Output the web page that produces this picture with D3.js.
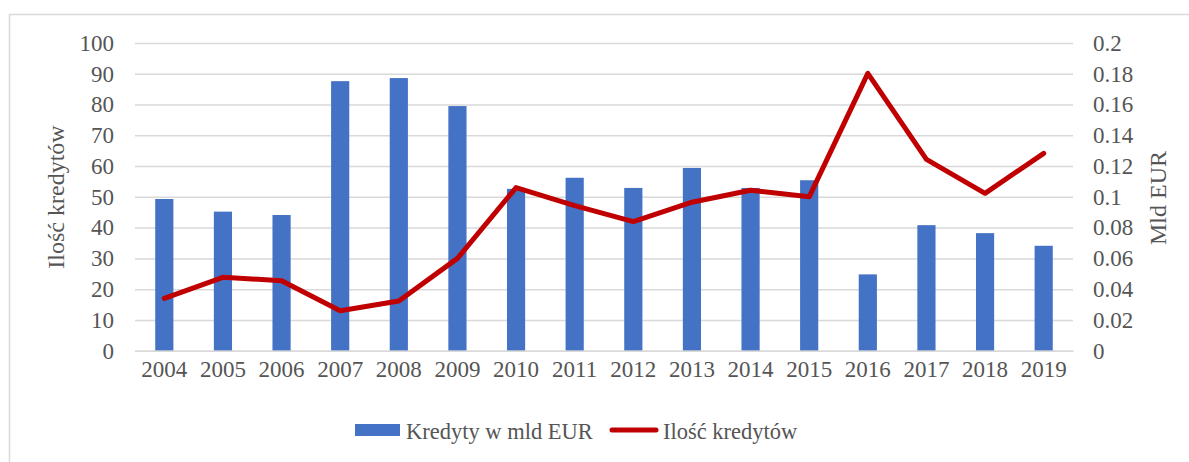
<!DOCTYPE html>
<html>
<head>
<meta charset="utf-8">
<script src="https://cdn.jsdelivr.net/npm/d3@7"></script>
<style>
  body { margin: 0; background: #fff; }
  svg text { font-family: "Liberation Serif", "Times New Roman", serif; fill: #555; }
</style>
</head>
<body>
<svg></svg>
<script>
let years = ['2004', '2005', '2006', '2007', '2008', '2009', '2010', '2011', '2012', '2013', '2014', '2015', '2016', '2017', '2018', '2019']
let kredyty = [49.3, 45.2, 44.1, 87.6, 88.6, 79.5, 52.6, 56.2, 52.9, 59.4, 52.9, 55.4, 24.8, 40.8, 38.2, 34.1]
let ilosc = [0.034, 0.0477, 0.0455, 0.026, 0.0323, 0.060, 0.106, 0.0943, 0.0839, 0.0965, 0.1043, 0.100, 0.1803, 0.1244, 0.1023, 0.1283]
let leftTicks = [0, 10, 20, 30, 40, 50, 60, 70, 80, 90, 100]
let rightTicks = [0, 0.02, 0.04, 0.06, 0.08, 0.1, 0.12, 0.14, 0.16, 0.18, 0.2]
let rightLabels = ['0', '0.02', '0.04', '0.06', '0.08', '0.1', '0.12', '0.14', '0.16', '0.18', '0.2']

let width = 1189
let height = 462
let plotLeft = 135
let plotRight = 1073
let plotTop = 43
let plotBottom = 350.7
let fontSize = 23

let svg = d3.select('svg')
  .attr('width', width)
  .attr('height', height)

// chart border
svg.append('rect')
   .attr('x', 9.5).attr('y', 14.5)
   .attr('width', 1190).attr('height', 460)
   .attr('fill', 'none')
   .attr('stroke', '#d9d9d9')
   .attr('stroke-width', 1.5)

let xScale = d3.scaleBand()
  .domain(years)
  .range([plotLeft, plotRight])

let yLeft = d3.scaleLinear().domain([0, 100]).range([plotBottom, plotTop])
let yRight = d3.scaleLinear().domain([0, 0.2]).range([plotBottom, plotTop])

// gridlines + left labels
let leftAxis = svg.append('g')
  .attr('transform', 'translate(' + plotLeft + ',0)')
  .call(d3.axisLeft(yLeft).tickValues(leftTicks).tickSize(-(plotRight - plotLeft)).tickPadding(21))
leftAxis.select('.domain').remove()
leftAxis.selectAll('line').attr('stroke', '#d9d9d9').attr('stroke-width', 1.5)
leftAxis.selectAll('text').attr('font-size', fontSize).attr('fill', '#555').attr('font-family', 'Liberation Serif')

let rightAxis = svg.append('g')
  .attr('transform', 'translate(' + plotRight + ',0)')
  .call(d3.axisRight(yRight).tickValues(rightTicks).tickSize(0).tickPadding(20)
    .tickFormat((d, i) => rightLabels[i]))
rightAxis.select('.domain').remove()
rightAxis.selectAll('text').attr('font-size', fontSize).attr('fill', '#555').attr('font-family', 'Liberation Serif')

// bars
let barW = xScale.bandwidth() * 0.31
svg.selectAll('.bar')
   .data(kredyty)
   .enter()
   .append('rect')
   .attr('class', 'bar')
   .attr('x', (d, i) => xScale(years[i]) + xScale.bandwidth() / 2 - barW / 2)
   .attr('y', d => yLeft(d))
   .attr('width', barW)
   .attr('height', d => plotBottom - yLeft(d))
   .attr('fill', '#4472c4')

// x axis
let xAxis = svg.append('g')
  .attr('transform', 'translate(0,' + plotBottom + ')')
  .call(d3.axisBottom(xScale).tickSize(0).tickPadding(10))
xAxis.select('.domain').attr('stroke', '#d9d9d9').attr('stroke-width', 1.5)
xAxis.selectAll('text').attr('font-size', fontSize).attr('fill', '#555').attr('font-family', 'Liberation Serif')

// line
let line = d3.line()
  .x((d, i) => xScale(years[i]) + xScale.bandwidth() / 2)
  .y(d => yRight(d))
svg.append('path')
   .datum(ilosc)
   .attr('d', line)
   .attr('fill', 'none')
   .attr('stroke', '#c00000')
   .attr('stroke-width', 5)
   .attr('stroke-linejoin', 'round')
   .attr('stroke-linecap', 'round')

// axis titles
svg.append('text')
   .attr('transform', 'translate(64,197) rotate(-90)')
   .attr('text-anchor', 'middle')
   .attr('font-size', 24)
   .text('Ilość kredytów')
svg.append('text')
   .attr('transform', 'translate(1166,198) rotate(-90)')
   .attr('text-anchor', 'middle')
   .attr('font-size', 24)
   .text('Mld EUR')

// legend
let legend = svg.append('g')
legend.append('rect')
   .attr('x', 355).attr('y', 424)
   .attr('width', 45).attr('height', 12)
   .attr('fill', '#4472c4')
legend.append('text')
   .attr('x', 406).attr('y', 439)
   .attr('font-size', 22.5)
   .text('Kredyty w mld EUR')
legend.append('line')
   .attr('x1', 612).attr('x2', 656)
   .attr('y1', 430).attr('y2', 430)
   .attr('stroke', '#c00000')
   .attr('stroke-width', 5)
   .attr('stroke-linecap', 'round')
legend.append('text')
   .attr('x', 663).attr('y', 439)
   .attr('font-size', 22.5)
   .text('Ilość kredytów')
</script>
</body>
</html>
